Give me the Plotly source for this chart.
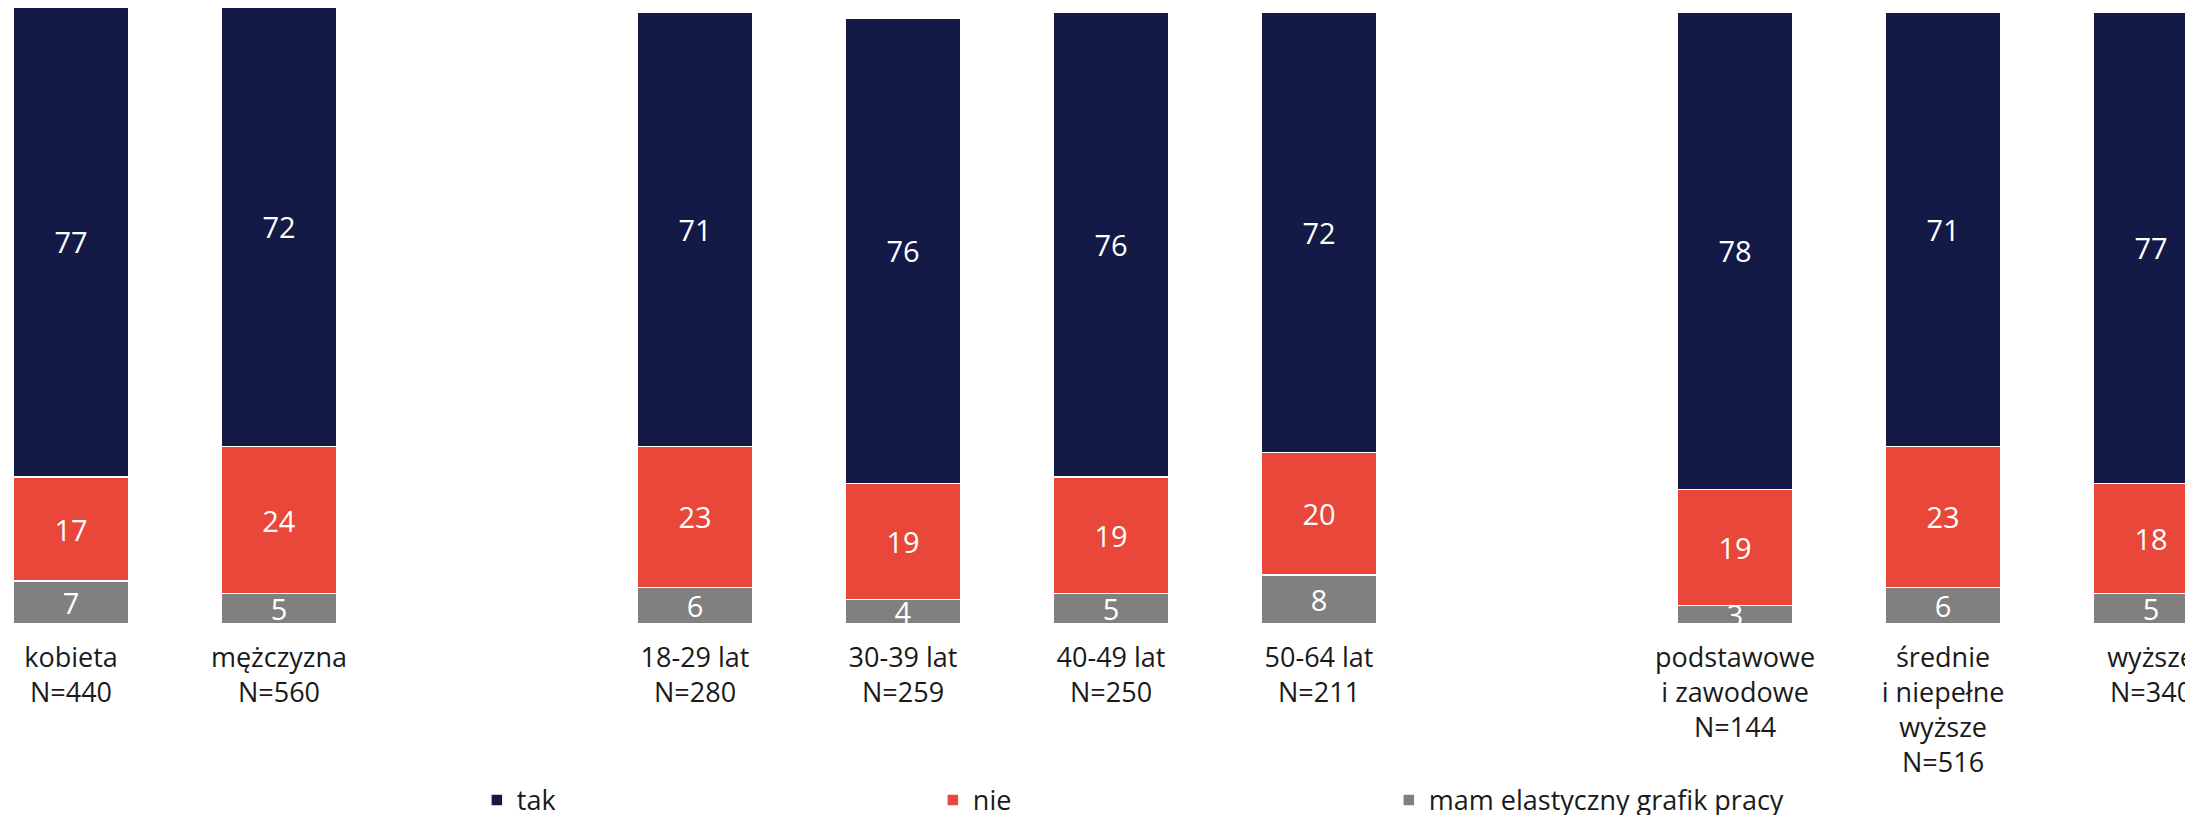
import plotly.graph_objects as go

# ---- data ----
categories = ["kobieta", "mężczyzna",
              "18-29 lat", "30-39 lat", "40-49 lat", "50-64 lat",
              "podstawowe<br>i zawodowe", "średnie<br>i niepełne<br>wyższe", "wyższe"]
sample_n = [440, 560, 280, 259, 250, 211, 144, 516, 340]
group_sizes = [2, 4, 3]
tak = [77, 72, 71, 76, 76, 72, 78, 71, 77]
nie = [17, 24, 23, 19, 19, 20, 19, 23, 18]
elastyczny = [7, 5, 6, 4, 5, 8, 3, 6, 5]

colors = {"tak": "#121A45", "nie": "#E8473A", "mam elastyczny grafik pracy": "#808080"}

# positions: one empty slot between groups
positions = []
idx = 0
for g, size in enumerate(group_sizes):
    for _ in range(size):
        positions.append(idx + g)
        idx += 1

tick_text = [f"{c}<br>N={n}" for c, n in zip(categories, sample_n)]

FONT = "Open Sans, Liberation Sans, Arial, sans-serif"

fig = go.Figure()
for name, vals in [("mam elastyczny grafik pracy", elastyczny), ("nie", nie), ("tak", tak)]:
    fig.add_trace(go.Bar(
        x=positions, y=vals, name=name,
        width=0.553,
        marker=dict(color=colors[name], line=dict(color="white", width=1.5)),
        text=[str(v) for v in vals],
        textposition="inside", insidetextanchor="middle", textangle=0,
        textfont=dict(color="white", size=29, family=FONT),
        hoverinfo="skip",
    ))

fig.update_layout(
    width=2193, height=815,
    barmode="stack",
    margin=dict(l=0, r=0, t=0, b=199, autoexpand=False),
    paper_bgcolor="white", plot_bgcolor="white",
    font=dict(family=FONT, color="#1a1a1a"),
    uniformtext=dict(minsize=29, mode="show"),
    showlegend=True,
    legend=dict(orientation="h", traceorder="reversed",
                x=0.2138, xanchor="left", y=-0.2465, yanchor="top",
                entrywidth=411, entrywidthmode="pixels",
                font=dict(size=27, color="#1a1a1a", family=FONT),
                bgcolor="rgba(0,0,0,0)"),
    xaxis=dict(range=[-0.3029, 10.240], tickmode="array",
               tickvals=positions, ticktext=tick_text,
               tickfont=dict(size=27, color="#1a1a1a", family=FONT),
               showgrid=False, zeroline=False, showline=False, ticks="",
               ticklabelstandoff=15, ticklabeloverflow="allow",
               automargin=False, fixedrange=True),
    yaxis=dict(range=[0, 100.7], visible=False, showgrid=False, zeroline=False,
               automargin=False, fixedrange=True),
)

fig.write_html("out.html")
